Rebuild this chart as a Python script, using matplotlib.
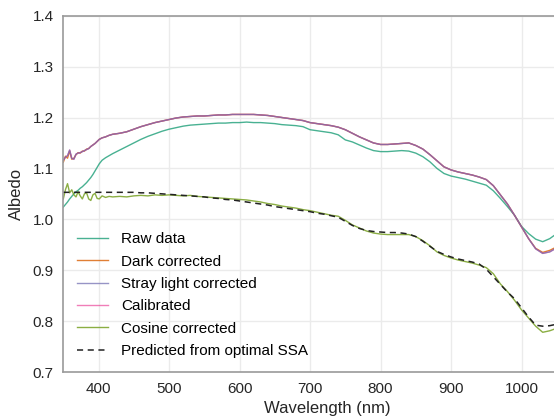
import matplotlib
matplotlib.use("Agg")
import matplotlib.pyplot as plt

plt.rcParams['font.family'] = ['Liberation Sans', 'DejaVu Sans']

wavelength = [350, 353, 356, 359, 362, 365, 368, 371, 374, 377, 380, 383, 386, 389, 392, 395, 398, 401,
              405, 410, 415, 420,
              430, 440, 450, 460, 470, 480, 490, 500, 510, 520, 530, 540, 550, 560, 570, 580, 590, 600,
              610, 620, 630, 640, 650, 660, 670, 680, 690, 700, 710, 720, 730, 740, 750, 760, 770, 780,
              790, 800, 810, 820, 830, 840, 850, 860, 870, 880, 890, 900, 910, 920, 930, 940, 950, 960,
              970, 980, 990, 1000, 1010, 1020, 1030, 1040, 1050]

raw_data = [1.024, 1.029, 1.034, 1.040, 1.045, 1.050, 1.054, 1.057, 1.061, 1.064, 1.068, 1.072, 1.077,
            1.082, 1.088, 1.095, 1.102, 1.109,
            1.116, 1.121, 1.125, 1.129,
            1.136, 1.143, 1.150, 1.157, 1.163, 1.168, 1.173, 1.177, 1.180, 1.183, 1.185, 1.186, 1.187,
            1.188, 1.189, 1.189, 1.190, 1.190, 1.191, 1.190, 1.190, 1.189, 1.188, 1.186, 1.185, 1.184,
            1.182, 1.176, 1.174, 1.172, 1.170, 1.166, 1.156, 1.152, 1.146, 1.140, 1.135, 1.133, 1.133,
            1.134, 1.135, 1.134, 1.130, 1.123, 1.113, 1.100, 1.090, 1.085, 1.082, 1.079, 1.075, 1.071,
            1.067, 1.056, 1.041, 1.025, 1.008, 0.986, 0.972, 0.961, 0.956, 0.962, 0.972]

dark_corrected = [1.112, 1.124, 1.120, 1.134, 1.118, 1.120, 1.127, 1.131, 1.130, 1.134, 1.134, 1.138,
                  1.139, 1.143, 1.146, 1.149, 1.153, 1.157,
                  1.160, 1.162, 1.165, 1.167,
                  1.169, 1.172, 1.177, 1.182, 1.186, 1.190, 1.193, 1.196, 1.199, 1.201, 1.202, 1.203,
                  1.203, 1.204, 1.205, 1.205, 1.206, 1.206, 1.206, 1.206, 1.205, 1.204, 1.202, 1.200,
                  1.198, 1.196, 1.194, 1.190, 1.188, 1.186, 1.184, 1.181, 1.176, 1.169, 1.162, 1.156,
                  1.150, 1.147, 1.147, 1.148, 1.149, 1.150, 1.145, 1.138, 1.127, 1.115, 1.103, 1.097,
                  1.093, 1.090, 1.087, 1.083, 1.078, 1.066, 1.048, 1.030, 1.008, 0.985, 0.962, 0.943,
                  0.935, 0.939, 0.946]

stray_corrected = [1.116, 1.122, 1.125, 1.136, 1.120, 1.118, 1.128, 1.130, 1.131, 1.133, 1.135, 1.137,
                   1.139, 1.143, 1.146, 1.149, 1.153, 1.157,
                   1.160, 1.162, 1.165, 1.167,
                   1.169, 1.172, 1.177, 1.182, 1.186, 1.190, 1.193, 1.196, 1.199, 1.201, 1.202, 1.203,
                   1.203, 1.204, 1.205, 1.205, 1.206, 1.206, 1.206, 1.206, 1.205, 1.204, 1.202, 1.200,
                   1.198, 1.196, 1.194, 1.190, 1.188, 1.186, 1.184, 1.181, 1.176, 1.169, 1.162, 1.156,
                   1.150, 1.147, 1.147, 1.148, 1.149, 1.150, 1.145, 1.138, 1.127, 1.115, 1.103, 1.097,
                   1.093, 1.090, 1.087, 1.083, 1.078, 1.066, 1.048, 1.030, 1.008, 0.985, 0.962, 0.942,
                   0.933, 0.936, 0.944]

calibrated = list(stray_corrected)

cosine_corrected = [1.040, 1.058, 1.070, 1.052, 1.058, 1.048, 1.044, 1.054, 1.046, 1.040, 1.050, 1.052,
                    1.040, 1.037, 1.048, 1.051, 1.041, 1.040,
                    1.046, 1.043, 1.045, 1.044,
                    1.045, 1.044, 1.046, 1.047, 1.046, 1.048, 1.047, 1.048, 1.047, 1.046, 1.047, 1.045,
                    1.044, 1.043, 1.042, 1.041, 1.040, 1.039, 1.038, 1.036, 1.034, 1.031, 1.029, 1.026,
                    1.024, 1.022, 1.019, 1.017, 1.014, 1.011, 1.008, 1.006, 0.998, 0.989, 0.983, 0.977,
                    0.973, 0.971, 0.970, 0.970, 0.970, 0.970, 0.966, 0.958, 0.948, 0.936, 0.929, 0.924,
                    0.920, 0.917, 0.914, 0.910, 0.905, 0.893, 0.873, 0.858, 0.841, 0.822, 0.806, 0.790,
                    0.778, 0.781, 0.786]

predicted_ssa = [1.053, 1.053, 1.053, 1.053, 1.053, 1.053, 1.053, 1.053, 1.053, 1.053, 1.053, 1.053,
                 1.053, 1.053, 1.053, 1.053, 1.053, 1.053,
                 1.053, 1.053, 1.053, 1.053,
                 1.053, 1.053, 1.053, 1.052, 1.052, 1.051, 1.050, 1.049, 1.048, 1.047, 1.046, 1.045,
                 1.044, 1.042, 1.041, 1.039, 1.038, 1.036, 1.034, 1.032, 1.030, 1.028, 1.025, 1.023,
                 1.021, 1.019, 1.017, 1.015, 1.012, 1.010, 1.007, 1.004, 0.996, 0.988, 0.982, 0.978,
                 0.976, 0.975, 0.974, 0.974, 0.973, 0.971, 0.966, 0.957, 0.947, 0.937, 0.931, 0.926,
                 0.922, 0.919, 0.916, 0.912, 0.902, 0.887, 0.872, 0.857, 0.844, 0.826, 0.808, 0.792,
                 0.790, 0.791, 0.794]

labels = ["Raw data", "Dark corrected", "Stray light corrected", "Calibrated",
          "Cosine corrected", "Predicted from optimal SSA"]
xticks = [400, 500, 600, 700, 800, 900, 1000]
yticks = [0.7, 0.8, 0.9, 1.0, 1.1, 1.2, 1.3, 1.4]

colors = ["#1b9e77", "#d95f02", "#7570b3", "#e7298a", "#7ea52e", "#222222"]
alphas = [0.8, 0.8, 0.75, 0.6, 0.9]
zorders = [2.0, 2.1, 2.3, 2.2, 2.4]

fig = plt.figure(figsize=(5.54, 4.19), dpi=100)
ax = fig.add_axes([63.3 / 554, 47 / 419, 528.75 / 554, 356.3 / 419])

series = [raw_data, dark_corrected, stray_corrected, calibrated, cosine_corrected]
for vals, lab, c, a, z in zip(series, labels[:5], colors[:5], alphas, zorders):
    ax.plot(wavelength, vals, color=c, lw=1.0, alpha=a, label=lab, zorder=z)
ax.plot(wavelength, predicted_ssa, color=colors[5], lw=1.1, ls=(0, (4, 3)), label=labels[5], zorder=2.5)

ax.set_xlim(350, 1100)
ax.set_ylim(0.7, 1.4)
ax.set_xticks(xticks)
ax.set_yticks(yticks)
ax.set_yticklabels([f"{v:.1f}" for v in yticks])
ax.grid(True, color="#ebebeb", lw=1.0)
ax.set_axisbelow(True)
for s in ax.spines.values():
    s.set_color("#9a9a9a")
    s.set_linewidth(1.2)
ax.tick_params(length=0, labelsize=11, colors="#262626", pad=7)
ax.set_xlabel("Wavelength (nm)", fontsize=12, color="#262626", labelpad=4)
ax.set_ylabel("Albedo", fontsize=12, color="#262626", labelpad=6)

leg = ax.legend(loc="lower left", bbox_to_anchor=(0.0, 0.0), frameon=False, fontsize=11,
                handlelength=2.0, labelspacing=0.55, handletextpad=0.9)

fig.savefig("out.png", dpi=100)
